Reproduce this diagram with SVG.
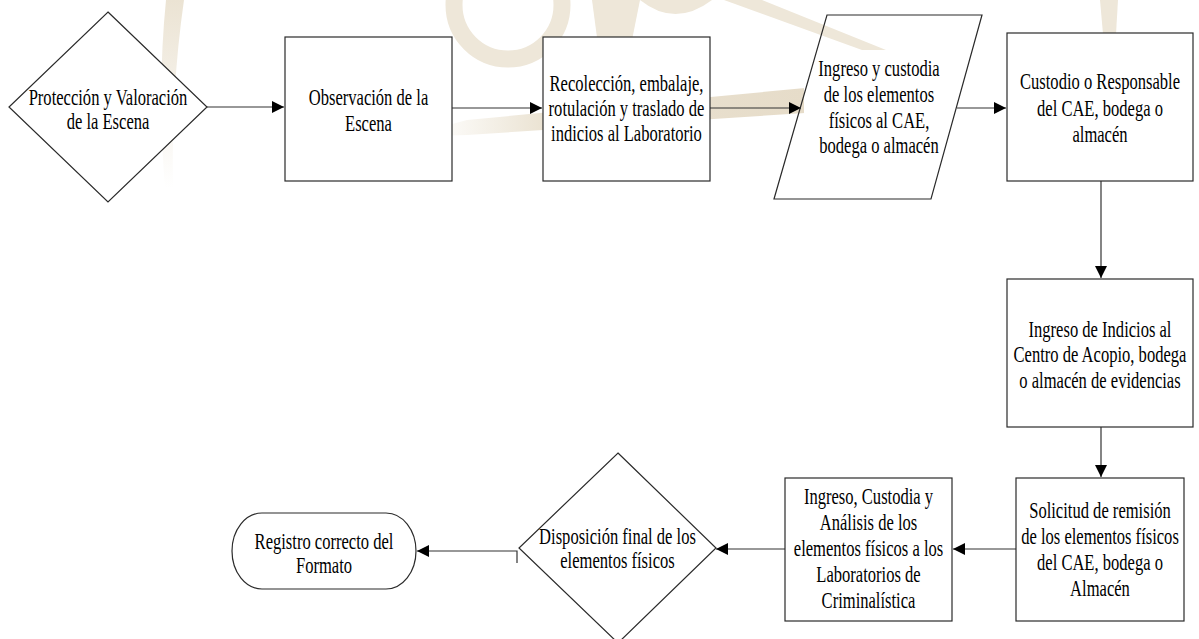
<svg xmlns="http://www.w3.org/2000/svg" width="1199" height="639" viewBox="0 0 1199 639">
  <style>
    .shape { fill: #ffffff; stroke: #2a2a2a; stroke-width: 1.2; }
    .open { fill: none; stroke: #2a2a2a; stroke-width: 1.2; }
    .conn { fill: none; stroke: #333333; stroke-width: 1.2; }
    .wm { fill: #eee7d9; stroke: none; }
    text { font-family: "Liberation Serif", "Times New Roman", serif; font-size: 23px; fill: #000000; text-anchor: middle; }
  </style>
  <defs>
    <marker id="arrow" markerUnits="userSpaceOnUse" markerWidth="13" markerHeight="12" refX="12" refY="6" orient="auto">
      <path d="M0,0 L12,6 L0,12 Z" fill="#000000"/>
    </marker>
    <linearGradient id="fadeDown" x1="0" y1="0" x2="0" y2="1">
      <stop offset="0" stop-color="#ebe3d3"/>
      <stop offset="1" stop-color="#ebe3d3" stop-opacity="0"/>
    </linearGradient>
    <linearGradient id="fadeLeft" x1="0" y1="0" x2="1" y2="0">
      <stop offset="0" stop-color="#ebe3d3" stop-opacity="0"/>
      <stop offset="0.3" stop-color="#ebe3d3"/>
      <stop offset="1" stop-color="#e6dcc9"/>
    </linearGradient>
  </defs>

  <rect x="0" y="0" width="1199" height="639" fill="#ffffff"/>

  <!-- watermark -->
  <g id="watermark">
    <path d="M166,0 L184,0 Q171,90 173,188 L165,188 Q157,90 166,0 Z" fill="url(#fadeDown)"/>
    <circle cx="508" cy="5" r="54" fill="none" stroke="#eee7d9" stroke-width="17"/>
    <path d="M430,130 L467,120 L805,88 L805,113 L467,135 L430,136 Z" fill="url(#fadeLeft)"/>
    <path d="M724,0 L762,0 L886,50 L862,50 Z" class="wm"/>
    <path d="M592,0 L640,0 L632,40 L598,45 Z" class="wm"/>
    <path d="M640,0 Q675,28 712,0 Z" class="wm"/>
    <path d="M1100,0 L1118,0 L1116,34 L1103,34 Z" class="wm"/>
  </g>

  <!-- connectors -->
  <g id="connectors">
    <line class="conn" x1="207" y1="107" x2="284" y2="107" marker-end="url(#arrow)"/>
    <line class="conn" x1="452" y1="108" x2="542" y2="108" marker-end="url(#arrow)"/>
    <line class="conn" x1="710" y1="108" x2="801" y2="108" marker-end="url(#arrow)"/>
    <line class="conn" x1="957" y1="108" x2="1006" y2="108" marker-end="url(#arrow)"/>
    <line class="conn" x1="1101" y1="181" x2="1101" y2="278" marker-end="url(#arrow)"/>
    <line class="conn" x1="1101" y1="427" x2="1101" y2="477" marker-end="url(#arrow)"/>
    <line class="conn" x1="1016" y1="549" x2="953" y2="549" marker-end="url(#arrow)"/>
    <line class="conn" x1="785" y1="549" x2="716" y2="549" marker-end="url(#arrow)"/>
    <path class="conn" d="M517,563 L517,551 L417,551" marker-end="url(#arrow)"/>
  </g>

  <g id="n1">
    <polygon class="shape" points="108,12 207,107 108,202 9,107"/>
    <g transform="translate(108 0) scale(0.72 1)">
      <text x="0" y="105">Protección y Valoración</text>
      <text x="0" y="129">de la Escena</text>
    </g>
  </g>

  <g id="n2">
    <rect class="shape" x="285" y="37" width="167" height="144"/>
    <g transform="translate(368.5 0) scale(0.72 1)">
      <text x="0" y="105">Observación de la</text>
      <text x="0" y="131">Escena</text>
    </g>
  </g>

  <g id="n3">
    <rect class="shape" x="543" y="37" width="167" height="144"/>
    <g transform="translate(626.5 0) scale(0.72 1)">
      <text x="0" y="91">Recolección, embalaje,</text>
      <text x="0" y="116">rotulación y traslado de</text>
      <text x="0" y="141">indicios al Laboratorio</text>
    </g>
  </g>

  <g id="n4">
    <rect x="804" y="50" width="153" height="145" fill="#ffffff"/>
    <polygon class="open" points="827,15 982,15 931,199 774,199"/>
    <g transform="translate(879 0) scale(0.72 1)">
      <text x="0" y="76">Ingreso y custodia</text>
      <text x="0" y="102">de los elementos</text>
      <text x="0" y="128">físicos al CAE,</text>
      <text x="0" y="153">bodega o almacén</text>
    </g>
  </g>

  <g id="n5">
    <rect class="shape" x="1007" y="33" width="186" height="148"/>
    <g transform="translate(1100 0) scale(0.72 1)">
      <text x="0" y="89">Custodio o Responsable</text>
      <text x="0" y="116">del CAE, bodega o</text>
      <text x="0" y="142">almacén</text>
    </g>
  </g>

  <g id="n6">
    <rect class="shape" x="1007" y="279" width="186" height="148"/>
    <g transform="translate(1100 0) scale(0.72 1)">
      <text x="0" y="337">Ingreso de Indicios al</text>
      <text x="0" y="362">Centro de Acopio, bodega</text>
      <text x="0" y="388">o almacén de evidencias</text>
    </g>
  </g>

  <g id="n7">
    <rect class="shape" x="1016" y="478" width="168" height="143"/>
    <g transform="translate(1100 0) scale(0.72 1)">
      <text x="0" y="518">Solicitud de remisión</text>
      <text x="0" y="544">de los elementos físicos</text>
      <text x="0" y="570">del CAE, bodega o</text>
      <text x="0" y="596">Almacén</text>
    </g>
  </g>

  <g id="n8">
    <rect class="shape" x="785" y="478" width="167" height="143"/>
    <g transform="translate(868.5 0) scale(0.72 1)">
      <text x="0" y="504">Ingreso, Custodia y</text>
      <text x="0" y="530">Análisis de los</text>
      <text x="0" y="556">elementos físicos a los</text>
      <text x="0" y="582">Laboratorios de</text>
      <text x="0" y="608">Criminalística</text>
    </g>
  </g>

  <g id="n9">
    <polygon class="shape" points="618,453 716,548 618,643 519,548"/>
    <g transform="translate(617.5 0) scale(0.72 1)">
      <text x="0" y="544">Disposición final de los</text>
      <text x="0" y="568">elementos físicos</text>
    </g>
  </g>

  <g id="n10">
    <rect class="shape" x="232" y="513" width="184" height="76" rx="30" ry="38"/>
    <g transform="translate(324 0) scale(0.72 1)">
      <text x="0" y="549">Registro correcto del</text>
      <text x="0" y="573">Formato</text>
    </g>
  </g>
</svg>
